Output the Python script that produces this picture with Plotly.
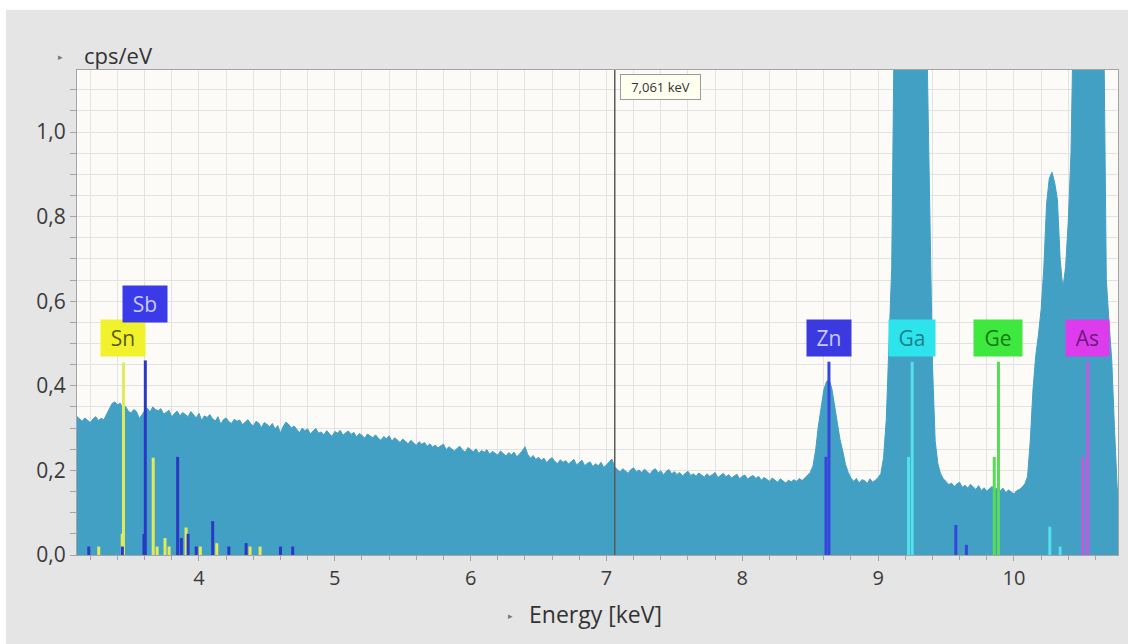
import plotly.graph_objects as go

# ---------------- data ----------------
energy_keV = [
    3.10, 3.12, 3.14, 3.16, 3.18, 3.20, 3.22, 3.24, 3.26, 3.28,
    3.30, 3.32, 3.34, 3.36, 3.38, 3.40, 3.42, 3.44, 3.46, 3.48,
    3.50, 3.52, 3.54, 3.56, 3.58, 3.60, 3.62, 3.64, 3.66, 3.68,
    3.70, 3.72, 3.74, 3.76, 3.78, 3.80, 3.82, 3.84, 3.86, 3.88,
    3.90, 3.92, 3.94, 3.96, 3.98, 4.00, 4.02, 4.04, 4.06, 4.08,
    4.10, 4.12, 4.14, 4.16, 4.18, 4.20, 4.22, 4.24, 4.26, 4.28,
    4.30, 4.32, 4.34, 4.36, 4.38, 4.40, 4.42, 4.44, 4.46, 4.48,
    4.50, 4.52, 4.54, 4.56, 4.58, 4.60, 4.62, 4.64, 4.66, 4.68,
    4.70, 4.72, 4.74, 4.76, 4.78, 4.80, 4.82, 4.84, 4.86, 4.88,
    4.90, 4.92, 4.94, 4.96, 4.98, 5.00, 5.02, 5.04, 5.06, 5.08,
    5.10, 5.12, 5.14, 5.16, 5.18, 5.20, 5.22, 5.24, 5.26, 5.28,
    5.30, 5.32, 5.34, 5.36, 5.38, 5.40, 5.42, 5.44, 5.46, 5.48,
    5.50, 5.52, 5.54, 5.56, 5.58, 5.60, 5.62, 5.64, 5.66, 5.68,
    5.70, 5.72, 5.74, 5.76, 5.78, 5.80, 5.82, 5.84, 5.86, 5.88,
    5.90, 5.92, 5.94, 5.96, 5.98, 6.00, 6.02, 6.04, 6.06, 6.08,
    6.10, 6.12, 6.14, 6.16, 6.18, 6.20, 6.22, 6.24, 6.26, 6.28,
    6.30, 6.32, 6.34, 6.36, 6.38, 6.40, 6.42, 6.44, 6.46, 6.48,
    6.50, 6.52, 6.54, 6.56, 6.58, 6.60, 6.62, 6.64, 6.66, 6.68,
    6.70, 6.72, 6.74, 6.76, 6.78, 6.80, 6.82, 6.84, 6.86, 6.88,
    6.90, 6.92, 6.94, 6.96, 6.98, 7.00, 7.02, 7.04, 7.06, 7.08,
    7.10, 7.12, 7.14, 7.16, 7.18, 7.20, 7.22, 7.24, 7.26, 7.28,
    7.30, 7.32, 7.34, 7.36, 7.38, 7.40, 7.42, 7.44, 7.46, 7.48,
    7.50, 7.52, 7.54, 7.56, 7.58, 7.60, 7.62, 7.64, 7.66, 7.68,
    7.70, 7.72, 7.74, 7.76, 7.78, 7.80, 7.82, 7.84, 7.86, 7.88,
    7.90, 7.92, 7.94, 7.96, 7.98, 8.00, 8.02, 8.04, 8.06, 8.08,
    8.10, 8.12, 8.14, 8.16, 8.18, 8.20, 8.22, 8.24, 8.26, 8.28,
    8.30, 8.32, 8.34, 8.36, 8.38, 8.40, 8.42, 8.44, 8.46, 8.48,
    8.50, 8.52, 8.54, 8.56, 8.58, 8.60, 8.62, 8.64, 8.66, 8.68,
    8.70, 8.72, 8.74, 8.76, 8.78, 8.80, 8.82, 8.84, 8.86, 8.88,
    8.90, 8.92, 8.94, 8.96, 8.98, 9.00, 9.02, 9.04, 9.06, 9.08,
    9.10, 9.12, 9.14, 9.16, 9.18, 9.20, 9.22, 9.24, 9.26, 9.28,
    9.30, 9.32, 9.34, 9.36, 9.38, 9.40, 9.42, 9.44, 9.46, 9.48,
    9.50, 9.52, 9.54, 9.56, 9.58, 9.60, 9.62, 9.64, 9.66, 9.68,
    9.70, 9.72, 9.74, 9.76, 9.78, 9.80, 9.82, 9.84, 9.86, 9.88,
    9.90, 9.92, 9.94, 9.96, 9.98, 10.00, 10.02, 10.04, 10.06, 10.08,
    10.10, 10.12, 10.14, 10.16, 10.18, 10.20, 10.22, 10.24, 10.26, 10.28,
    10.30, 10.32, 10.34, 10.36, 10.38, 10.40, 10.42, 10.44, 10.46, 10.48,
    10.50, 10.52, 10.54, 10.56, 10.58, 10.60, 10.62, 10.64, 10.66, 10.68,
    10.70, 10.72, 10.74, 10.76, 10.78,
]

cps_per_eV = [
    0.328, 0.321, 0.316, 0.324, 0.319, 0.313, 0.322, 0.327, 0.318, 0.323,
    0.320, 0.334, 0.347, 0.358, 0.362, 0.355, 0.359, 0.347, 0.351, 0.340,
    0.336, 0.344, 0.339, 0.323, 0.331, 0.341, 0.347, 0.338, 0.350, 0.344,
    0.341, 0.346, 0.333, 0.338, 0.342, 0.326, 0.335, 0.340, 0.329, 0.337,
    0.333, 0.327, 0.339, 0.331, 0.324, 0.335, 0.318, 0.329, 0.325, 0.332,
    0.322, 0.317, 0.327, 0.309, 0.320, 0.324, 0.315, 0.311, 0.321, 0.316,
    0.319, 0.308, 0.314, 0.320, 0.311, 0.305, 0.316, 0.312, 0.301, 0.313,
    0.309, 0.303, 0.311, 0.298, 0.306, 0.288, 0.304, 0.314, 0.309, 0.300,
    0.305, 0.297, 0.289, 0.300, 0.294, 0.298, 0.286, 0.293, 0.299, 0.288,
    0.291, 0.284, 0.294, 0.287, 0.280, 0.292, 0.288, 0.295, 0.283, 0.289,
    0.293, 0.285, 0.290, 0.279, 0.287, 0.283, 0.276, 0.286, 0.281, 0.277,
    0.284, 0.276, 0.271, 0.280, 0.275, 0.282, 0.269, 0.277, 0.272, 0.266,
    0.274, 0.268, 0.263, 0.271, 0.266, 0.259, 0.268, 0.262, 0.266, 0.257,
    0.263, 0.255, 0.260, 0.253, 0.258, 0.262, 0.249, 0.256, 0.251, 0.246,
    0.252, 0.257, 0.248, 0.243, 0.254, 0.249, 0.244, 0.251, 0.240, 0.247,
    0.243, 0.249, 0.238, 0.245, 0.240, 0.236, 0.246, 0.239, 0.234, 0.242,
    0.237, 0.243, 0.232, 0.239, 0.246, 0.256, 0.238, 0.229, 0.235, 0.226,
    0.231, 0.224, 0.229, 0.218, 0.226, 0.230, 0.221, 0.216, 0.225, 0.219,
    0.223, 0.215, 0.221, 0.226, 0.213, 0.219, 0.224, 0.211, 0.217, 0.220,
    0.209, 0.216, 0.211, 0.219, 0.207, 0.213, 0.221, 0.227, 0.208, 0.201,
    0.196, 0.204, 0.199, 0.193, 0.202, 0.206, 0.197, 0.201, 0.195, 0.203,
    0.197, 0.191, 0.200, 0.204, 0.194, 0.199, 0.189, 0.198, 0.202, 0.192,
    0.197, 0.190, 0.195, 0.187, 0.193, 0.198, 0.188, 0.192, 0.186, 0.194,
    0.189, 0.184, 0.192, 0.186, 0.190, 0.195, 0.183, 0.189, 0.193, 0.185,
    0.190, 0.182, 0.187, 0.191, 0.180, 0.186, 0.189, 0.179, 0.185, 0.188,
    0.181, 0.186, 0.177, 0.183, 0.179, 0.174, 0.182, 0.178, 0.172, 0.180,
    0.175, 0.170, 0.177, 0.173, 0.178, 0.174, 0.181, 0.176, 0.182, 0.188,
    0.195, 0.210, 0.248, 0.305, 0.352, 0.390, 0.410, 0.415, 0.392, 0.352,
    0.310, 0.272, 0.245, 0.214, 0.195, 0.182, 0.174, 0.181, 0.170, 0.178,
    0.176, 0.169, 0.180, 0.172, 0.177, 0.183, 0.192, 0.230, 0.320, 0.480,
    0.680, 1.300, 1.950, 2.500, 2.850, 3.050, 3.100, 3.000, 2.750, 2.400,
    2.000, 1.700, 1.450, 1.200, 0.780, 0.450, 0.270, 0.215, 0.192, 0.180,
    0.174, 0.166, 0.170, 0.162, 0.168, 0.172, 0.160, 0.165, 0.158, 0.167,
    0.161, 0.155, 0.164, 0.152, 0.159, 0.150, 0.157, 0.162, 0.154, 0.160,
    0.152, 0.158, 0.147, 0.154, 0.149, 0.144, 0.152, 0.155, 0.160, 0.168,
    0.185, 0.270, 0.390, 0.470, 0.520, 0.580, 0.680, 0.830, 0.890, 0.905,
    0.880, 0.840, 0.700, 0.630, 0.680, 0.790, 0.950, 1.250, 1.700, 2.300,
    2.800, 3.100, 3.200, 3.050, 2.700, 2.200, 1.800, 1.550, 1.300, 0.650,
    0.550, 0.460, 0.300, 0.160, 0.120,
]

# element marker lines (energy in keV, height in cps/eV)
sn_line_keV = [3.262, 3.435, 3.444, 3.663, 3.692, 3.750, 3.780, 3.905, 4.010, 4.131, 4.376, 4.450]
sn_line_h = [0.020, 0.050, 0.455, 0.230, 0.020, 0.040, 0.020, 0.065, 0.020, 0.028, 0.020, 0.020]
sb_line_keV = [3.189, 3.436, 3.595, 3.605, 3.843, 3.870, 3.920, 3.980, 4.101, 4.220, 4.347, 4.600, 4.690]
sb_line_h = [0.020, 0.020, 0.050, 0.460, 0.232, 0.040, 0.050, 0.020, 0.080, 0.020, 0.028, 0.020, 0.020]
zn_line_keV = [8.616, 8.638, 9.572, 9.650]
zn_line_h = [0.232, 0.457, 0.071, 0.024]
ga_line_keV = [9.224, 9.251, 10.264, 10.340]
ga_line_h = [0.232, 0.457, 0.067, 0.020]
ge_line_keV = [9.855, 9.886]
ge_line_h = [0.232, 0.457]
as_line_keV = [10.508, 10.543]
as_line_h = [0.232, 0.457]

label_text = ["Sn", "Sb", "Zn", "Ga", "Ge", "As"]
label_keV = [3.444, 3.605, 8.638, 9.251, 9.886, 10.543]
label_level = [0.513, 0.594, 0.513, 0.513, 0.513, 0.513]

cursor_keV = 7.061
cursor_text = "7,061 keV"
x_tick_vals = [4, 5, 6, 7, 8, 9, 10]
x_tick_text = ["4", "5", "6", "7", "8", "9", "10"]

# ---------------- styling ----------------
FONT = "Open Sans"
SPEC = "#42a0c5"
GRID = "#e2e2e2"
AXC = "#a4a4a4"

line_sets = [
    (sn_line_keV, sn_line_h, "#e2ea5a"),
    (sb_line_keV, sb_line_h, "#2a38c4"),
    (zn_line_keV, zn_line_h, "#3646dc"),
    (ga_line_keV, ga_line_h, "#52e0ea"),
    (ge_line_keV, ge_line_h, "#58dc58"),
    (as_line_keV, as_line_h, "#c658e0"),
]
label_style = [
    ("#f2f22c", "#5c5c14"),
    ("#3a3ae8", "#c8c8f4"),
    ("#3a3ae0", "#c8c8f4"),
    ("#2ee4ec", "#18808c"),
    ("#3ee83e", "#187818"),
    ("#dc3cec", "#70187c"),
]
label_width = [44, 44, 44, 46, 48, 43]

fig = go.Figure()
fig.add_trace(go.Scatter(
    x=energy_keV, y=cps_per_eV, mode="lines", fill="tozeroy",
    fillcolor=SPEC, line=dict(color=SPEC, width=1), hoverinfo="skip",
))

for xs, hs, col in line_sets:
    lx, ly = [], []
    for e, h in zip(xs, hs):
        lx += [e, e, None]
        ly += [0, h, None]
    fig.add_trace(go.Scatter(x=lx, y=ly, mode="lines",
                             line=dict(color=col, width=3), hoverinfo="skip"))

fig.add_shape(type="line", xref="x", yref="paper", x0=cursor_keV, x1=cursor_keV,
              y0=0, y1=1, line=dict(color="#5a5a5a", width=1.5), layer="above")

# white strips at the top and left edge of the picture
fig.add_shape(type="rect", xref="paper", yref="paper", x0=-0.1, x1=1.05,
              y0=1.124, y1=1.2, fillcolor="white", line=dict(width=0), layer="below")
fig.add_shape(type="rect", xref="paper", yref="paper", x0=-0.1, x1=-0.0682,
              y0=-0.25, y1=1.2, fillcolor="white", line=dict(width=0), layer="below")

for txt, ex, lv, (bg, fc), w in zip(label_text, label_keV, label_level, label_style, label_width):
    fig.add_annotation(x=ex, y=lv, xref="x", yref="y", text=txt, showarrow=False,
                       bgcolor=bg, width=w, height=36, borderpad=0,
                       font=dict(family=FONT, size=21, color=fc))

fig.add_annotation(x=cursor_keV, y=0.992, xref="x", yref="paper", text=cursor_text,
                   showarrow=False, xanchor="left", yanchor="top", xshift=5,
                   bgcolor="#fffff0", bordercolor="#9a9a9a", borderwidth=1,
                   borderpad=2, width=75, height=20,
                   font=dict(family=FONT, size=13, color="#333333"))

fig.add_annotation(x=-0.0154, y=1.0268, xref="paper", yref="paper", text="▸",
                   showarrow=False, xanchor="center", yanchor="middle",
                   font=dict(family="DejaVu Sans", size=9, color="#777777"))
fig.add_annotation(x=0.0048, y=1.031, xref="paper", yref="paper", text="cps/eV",
                   showarrow=False, xanchor="left", yanchor="middle",
                   font=dict(family=FONT, size=22, color="#333333"))
fig.add_annotation(x=0.416, y=-0.126, xref="paper", yref="paper", text="▸",
                   showarrow=False, xanchor="center", yanchor="middle",
                   font=dict(family="DejaVu Sans", size=9, color="#777777"))
fig.add_annotation(x=0.4976, y=-0.1216, xref="paper", yref="paper", text="Energy [keV]",
                   showarrow=False, xanchor="center", yanchor="middle",
                   font=dict(family=FONT, size=23, color="#333333"))

fig.update_layout(
    width=1128, height=644,
    margin=dict(l=77, r=10, t=70, b=89),
    paper_bgcolor="#e5e5e5", plot_bgcolor="#fcfbf8",
    showlegend=False, separators=",.",
    font=dict(family=FONT, color="#3a3a3a"),
)
fig.update_xaxes(
    range=[3.102, 10.766], tickmode="array", tickvals=x_tick_vals, ticktext=x_tick_text,
    showgrid=True, gridcolor=GRID, gridwidth=1, zeroline=False,
    ticks="outside", ticklen=5, tickcolor=AXC,
    showline=True, linecolor=AXC, mirror=True,
    tickfont=dict(family=FONT, size=20, color="#3a3a3a"),
    minor=dict(tick0=0, dtick=0.2, showgrid=True, gridcolor=GRID,
               ticks="outside", ticklen=4, tickcolor=AXC),
)
fig.update_yaxes(
    range=[0, 1.1466], tick0=0, dtick=0.2, tickformat=".1f",
    showgrid=True, gridcolor=GRID, gridwidth=1, zeroline=False,
    ticks="outside", ticklen=6, tickcolor=AXC,
    showline=True, linecolor=AXC, mirror=True,
    tickfont=dict(family=FONT, size=21, color="#3a3a3a"),
    minor=dict(tick0=0, dtick=0.05, showgrid=True, gridcolor=GRID,
               ticks="outside", ticklen=6, tickcolor=AXC),
)

fig.write_html("out.html", config={"displayModeBar": False},
               post_script="document.body.style.margin='0';")
